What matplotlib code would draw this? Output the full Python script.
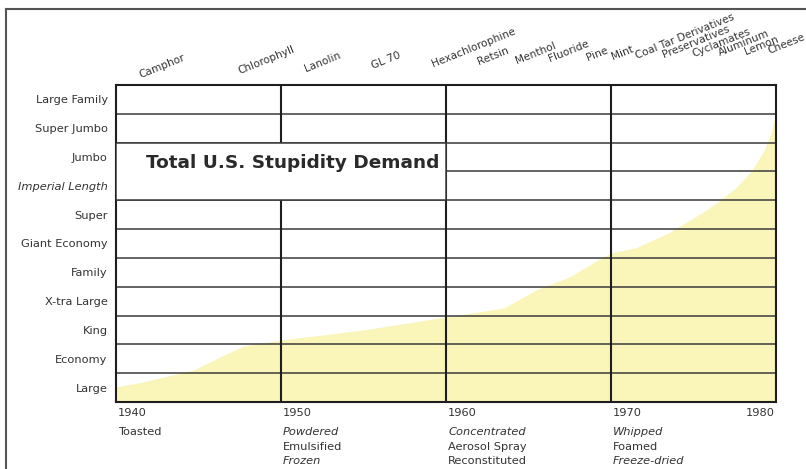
import numpy as np
import matplotlib
matplotlib.use("Agg")
import matplotlib.pyplot as plt
from matplotlib.patches import Rectangle
from matplotlib.lines import Line2D

plt.rcParams['font.family'] = ['DejaVu Sans']

# package sizes, smallest at the bottom
sizes = ["Large", "Economy", "King", "X-tra Large", "Family", "Giant Economy",
         "Super", "Imperial Length", "Jumbo", "Super Jumbo", "Large Family"]

# demand curve (in size bands)
years = [1940, 1941.6, 1944.7, 1946.3, 1947.7, 1950, 1955, 1960, 1963.5, 1965.5,
         1967.5, 1969.2, 1970, 1971.5, 1973.5, 1975.5, 1976.5, 1977.5, 1978.5,
         1979.3, 1979.7, 1980]
demand = [0.52, 0.69, 1.11, 1.56, 1.94, 2.15, 2.5, 2.95, 3.26, 3.9,
          4.34, 4.93, 5.17, 5.35, 5.87, 6.56, 6.95, 7.4, 8.0, 8.75, 9.35, 10.0]

# additives along the top, by year of arrival
additives = ["Camphor", "Chlorophyll", "Lanolin", "GL 70", "Hexachlorophine",
             "Retsin", "Menthol", "Fluoride", "Pine", "Mint", "Coal Tar Derivatives",
             "Preservatives", "Cyclamates", "Aluminum", "Lemon", "Cheese"]
additive_years = [1941.5, 1947.5, 1951.5, 1955.6, 1959.2, 1962.0, 1964.3, 1966.3,
                  1968.6, 1970.1, 1971.6, 1973.2, 1975.0, 1976.6, 1978.2, 1979.6]

# decades and the processes of each
decades = [1940, 1950, 1960, 1970, 1980]
processes = [["Toasted"],
             ["Powdered", "Emulsified", "Frozen"],
             ["Concentrated", "Aerosol Spray", "Reconstituted"],
             ["Whipped", "Foamed", "Freeze-dried"],
             []]
italic_words = {"Powdered", "Frozen", "Concentrated", "Whipped", "Freeze-dried"}

W, H = 806, 469
fig = plt.figure(figsize=(W / 100, H / 100), dpi=100)
ax = fig.add_axes([116 / W, 1 - 402 / H, 660 / W, 317 / H])
ax.set_xlim(1940, 1980)
ax.set_ylim(0, len(sizes))

line_col = '#3a3a3a'
txt_col = '#333333'
ax.fill_between(years, 0, demand, color='#faf5b9', lw=0, zorder=1)

# horizontal rules between the size bands
for i in range(1, len(sizes)):
    ax.axhline(i, color=line_col, lw=1.1, zorder=2)
for d in decades[1:-1]:
    ax.axvline(d, color='#1e1e1e', lw=1.5, zorder=2)

# title box sits over two bands on the left
ax.add_patch(Rectangle((1940, 7), 20, 2, facecolor='white', edgecolor=line_col,
                       lw=1.1, zorder=3))
ax.text(1941.8, 8.3, "Total U.S. Stupidity Demand", fontsize=13.3,
        fontweight='bold', color='#2a2a2a', va='center', ha='left', zorder=4)

for s in ax.spines.values():
    s.set_color('#1e1e1e')
    s.set_linewidth(1.5)

ax.set_yticks(np.arange(len(sizes)) + 0.5)
ax.set_yticklabels(sizes, fontsize=8.2, color=txt_col)
ax.tick_params(axis='y', length=0, pad=6)
for lab in ax.get_yticklabels():
    if lab.get_text() == "Imperial Length":
        lab.set_fontstyle('italic')
ax.set_xticks([])

# additive names, slanted along the top
for name, yr in zip(additives, additive_years):
    ax.annotate(name, xy=(yr, 1), xycoords=('data', 'axes fraction'),
                xytext=(0, 4.5 + 0.45 * (yr - 1940)), textcoords='offset points',
                rotation=22, rotation_mode='anchor', ha='left', va='baseline',
                fontsize=7.6, color=txt_col)

# decade labels and processes underneath
for d, words in zip(decades, processes):
    ha = 'right' if d == decades[-1] else 'left'
    dx = -1 if d == decades[-1] else 1.5
    ax.annotate(str(d), xy=(d, 0), xycoords=('data', 'axes fraction'),
                xytext=(dx, -4), textcoords='offset points', ha=ha, va='top',
                fontsize=8.2, color=txt_col)
    for k, w in enumerate(words):
        ax.annotate(w, xy=(d, 0), xycoords=('data', 'axes fraction'),
                    xytext=(dx, -18 - 10.5 * k), textcoords='offset points',
                    ha=ha, va='top', fontsize=8.2, color=txt_col,
                    fontstyle='italic' if w in italic_words else 'normal')

# page frame
fig.add_artist(Line2D([6 / W, 1], [1 - 9 / H, 1 - 9 / H], color='#555555', lw=1.5,
                      transform=fig.transFigure))
fig.add_artist(Line2D([6 / W, 6 / W], [0, 1 - 9 / H], color='#555555', lw=1.5,
                      transform=fig.transFigure))

fig.savefig('out.png', dpi=100)
